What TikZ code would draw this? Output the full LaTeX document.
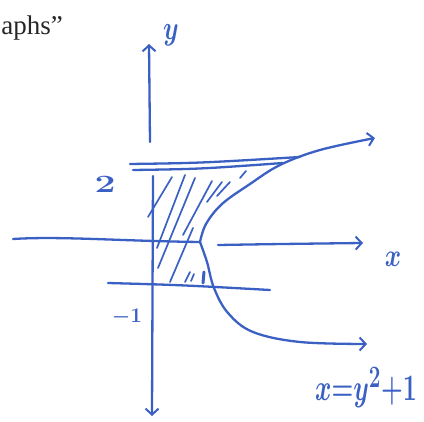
\documentclass[tikz,border=0pt]{standalone}
\usepackage{fontspec}
\newfontfamily\serifprint{Liberation Serif}
\usetikzlibrary{arrows.meta}
\definecolor{ink}{RGB}{58,96,196}
\begin{document}
\begin{tikzpicture}[x=1pt,y=-1pt,
  pen/.style={draw=ink,line width=2.3pt,line cap=round,line join=round},
  hatchline/.style={draw=ink,line width=1.7pt,line cap=round},
  barb/.style={-{Straight Barb[length=6pt,width=13pt,line width=2pt]}},
  lbl/.style={text=ink,inner sep=0pt,anchor=base}]
\useasboundingbox (0,0) rectangle (424,422);

% printed fragment
\node[anchor=base east,inner sep=0pt,font=\serifprint\fontsize{27}{27}\selectfont,text=black!85] (frag) at (63,35) {aphs”};

% y axis
\coordinate (ytop) at (149,44);
\coordinate (ygap) at (150,142);
\coordinate (ylow) at (153,176);
\coordinate (ybot) at (152,416);
\draw[pen,barb] (ygap) -- (ytop);
\draw[pen,barb] (ylow) -- (ybot);

% x axis
\coordinate (xl) at (13,239);
\coordinate (vtx) at (200,242);
\coordinate (xr0) at (218,245);
\coordinate (xr) at (363,243);
\draw[pen] (xl) .. controls (60,236) and (120,241) .. (vtx);
\draw[pen,barb] (xr0) .. controls (280,244) .. (xr);

% y = 2 (double stroke)
\coordinate (t1a) at (130,164);
\coordinate (t1b) at (300,157);
\coordinate (t2a) at (133,170);
\coordinate (t2b) at (283,163);
\draw[pen] (t1a) .. controls (200,163) .. (t1b);
\draw[pen] (t2a) .. controls (200,169) .. (t2b);

% y = -1
\coordinate (ba) at (108,283);
\coordinate (bb) at (270,290);
\draw[pen] (ba) .. controls (180,285) .. (bb);

% parabola x = y^2 + 1
\draw[pen,barb] plot[smooth,tension=0.6] coordinates {(200,242) (206,224) (222,204) (250,184) (280,165) (320,150) (375,138)};
\draw[pen,barb] plot[smooth,tension=0.6] coordinates {(200,242) (207,262) (214,288) (228,313) (253,332) (300,342) (367,344)};

% hatching
\draw[hatchline] (148,217) -- (172,177);
\draw[hatchline] (157,248) -- (185,175);
\draw[hatchline] (158,268) -- (195,178);
\draw[hatchline] (170,282) -- (193,228);
\draw[hatchline] (183,235) -- (212,181);
\draw[hatchline] (207,202) -- (222,182);
\draw[hatchline] (217,196) -- (230,182);
\draw[hatchline] (240,178) -- (246,171);
\draw[hatchline] (185,282) -- (190,272);
\draw[hatchline] (191,281) -- (194,274);
\draw[pen,line width=3pt] (203,283) -- (204,272);

% labels
\node[lbl,font=\fontsize{40}{40}\selectfont\boldmath,yscale=1.35] (ylab) at (171,40) {$y$};
\node[lbl,font=\fontsize{34}{34}\selectfont\boldmath,yscale=1.3] (xlab) at (393,267) {$x$};
\node[lbl,font=\fontsize{26}{26}\selectfont\boldmath,xscale=1.5] (two) at (105,193) {$2$};
\node[lbl,font=\fontsize{21}{21}\selectfont\boldmath] (mone) at (127,323) {$-1$};
\node[lbl,font=\fontsize{30}{30}\selectfont\boldmath,yscale=1.5] (eq) at (366,401) {$x{=}y^2{+}1$};
\end{tikzpicture}
\end{document}
